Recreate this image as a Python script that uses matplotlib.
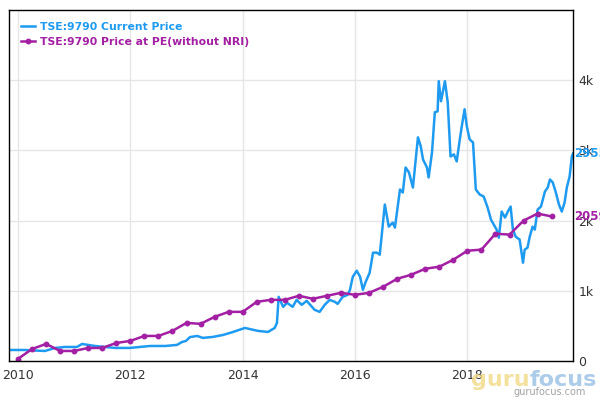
import numpy as np
from matplotlib import pyplot as plt
from matplotlib.ticker import FixedLocator


# current price (decimal year, price)
price_year = [2009.86, 2010.12, 2010.27, 2010.48, 2010.66, 2010.84, 2011.05, 2011.14, 2011.25, 2011.37,
              2011.55, 2011.73, 2011.99, 2012.17, 2012.35, 2012.62, 2012.83, 2012.92, 2012.99, 2013.06,
              2013.19, 2013.29, 2013.47, 2013.65, 2013.83, 2014.04, 2014.27, 2014.45, 2014.57, 2014.61,
              2014.64, 2014.72, 2014.79, 2014.89, 2014.96, 2015.05, 2015.14, 2015.28, 2015.37, 2015.46,
              2015.55, 2015.64, 2015.69, 2015.78, 2015.87, 2015.91, 2015.96, 2016.03, 2016.09, 2016.14,
              2016.19, 2016.26, 2016.32, 2016.39, 2016.44, 2016.53, 2016.60, 2016.67, 2016.71, 2016.80,
              2016.85, 2016.90, 2016.96, 2017.03, 2017.12, 2017.17, 2017.21, 2017.28, 2017.31, 2017.37,
              2017.42, 2017.47, 2017.49, 2017.53, 2017.60, 2017.65, 2017.70, 2017.76, 2017.81, 2017.86,
              2017.90, 2017.95, 2017.99, 2018.04, 2018.10, 2018.15, 2018.22, 2018.29, 2018.36, 2018.42,
              2018.47, 2018.52, 2018.56, 2018.61, 2018.67, 2018.72, 2018.77, 2018.81, 2018.86, 2018.93,
              2018.99, 2019.02, 2019.07, 2019.11, 2019.16, 2019.20, 2019.25, 2019.31, 2019.38, 2019.43,
              2019.47, 2019.52, 2019.57, 2019.63, 2019.68, 2019.73, 2019.77, 2019.82, 2019.86, 2019.88]
price = [157, 157, 150, 143, 186, 200, 200, 243, 229, 214,
         200, 186, 186, 200, 214, 214, 229, 271, 286, 340,
         357, 329, 343, 371, 414, 471, 429, 414, 471, 543,
         914, 771, 829, 771, 871, 800, 857, 729, 700, 800,
         871, 843, 814, 914, 943, 1014, 1200, 1286, 1200, 1014,
         1129, 1257, 1543, 1543, 1514, 2229, 1914, 1971, 1900, 2443,
         2400, 2757, 2686, 2471, 3186, 3057, 2871, 2757, 2614, 2971,
         3543, 3557, 3986, 3700, 3986, 3686, 2914, 2943, 2843, 3129,
         3343, 3586, 3343, 3157, 3114, 2443, 2371, 2343, 2186, 2014,
         1943, 1871, 1757, 2129, 2043, 2129, 2200, 1871, 1771, 1729,
         1400, 1586, 1614, 1771, 1914, 1871, 2157, 2200, 2414, 2471,
         2586, 2543, 2414, 2229, 2129, 2257, 2471, 2629, 2914, 2955]

# price at PE (without NRI), quarterly
pe_year = np.arange(2010.0, 2019.51, 0.25)
pe_price = [30, 171, 243, 143, 143, 186, 186, 257, 286, 357,
            357, 429, 543, 529, 629, 700, 700, 843, 871, 871,
            929, 886, 929, 971, 943, 971, 1057, 1171, 1229, 1314,
            1343, 1443, 1571, 1586, 1814, 1800, 2000, 2100, 2059]

blue = '#1e9bf0'
purple = '#a31fa3'

fig = plt.figure(figsize=(6, 4), dpi=100)
ax = fig.add_axes([0.015, 0.0975, 0.94, 0.8775])

ax.plot(price_year, price, color=blue, lw=1.8, label='TSE:9790 Current Price')
ax.plot(pe_year, pe_price, color=purple, lw=1.8, marker='o', ms=3.2,
        label='TSE:9790 Price at PE(without NRI)')

ax.set_xlim(2009.84, 2019.88)
ax.set_ylim(0, 5000)
ax.xaxis.set_major_locator(FixedLocator([2010, 2012, 2014, 2016, 2018]))
ax.set_yticks([0, 1000, 2000, 3000, 4000])
ax.set_yticklabels(['0', '1k', '2k', '3k', '4k'])
ax.yaxis.tick_right()
ax.tick_params(axis='both', length=0, labelsize=9, colors='#333333')
ax.tick_params(axis='y', pad=4)
ax.tick_params(axis='x', pad=6)
ax.grid(True, color='#e6e6e6', lw=1)
ax.set_axisbelow(True)
for s in ax.spines.values():
    s.set_color('black')
    s.set_linewidth(1)

leg = ax.legend(loc='upper left', frameon=False, handlelength=1.3,
                handletextpad=0.5, borderaxespad=0.7, labelspacing=0.45,
                prop={'weight': 'bold', 'size': 7.8})
for txt, c in zip(leg.get_texts(), [blue, purple]):
    txt.set_color(c)

ax.annotate('2955', xy=(1, price[-1]), xycoords=('axes fraction', 'data'),
            xytext=(1, 0), textcoords='offset points', va='center', ha='left',
            color=blue, fontsize=8.5, fontweight='bold', annotation_clip=False)
ax.annotate('2059', xy=(1, pe_price[-1]), xycoords=('axes fraction', 'data'),
            xytext=(1, 0), textcoords='offset points', va='center', ha='left',
            color=purple, fontsize=8.5, fontweight='bold', annotation_clip=False)

# watermark
fig.text(0.785, 0.035, 'guru', color='#f3dc8c', fontsize=16, fontweight='bold', alpha=0.85)
fig.text(0.882, 0.035, 'focus', color='#9fc3e6', fontsize=16, fontweight='bold', alpha=0.85)
fig.text(0.855, 0.012, 'gurufocus.com', color='#999999', fontsize=7, alpha=0.9)

plt.savefig('out.png', dpi=100)
